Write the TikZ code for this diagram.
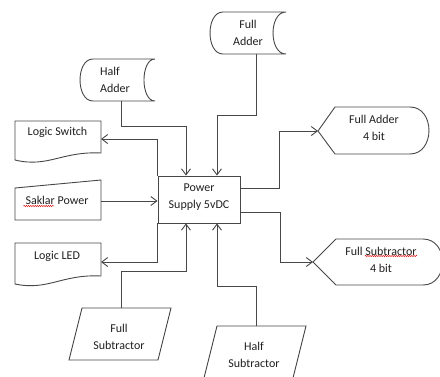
\documentclass[tikz,border=0pt]{standalone}
\usepackage{fontspec}
\setmainfont{Carlito}
\usetikzlibrary{arrows.meta,decorations.pathmorphing,calc}
\begin{document}
\begin{tikzpicture}[x=1pt,y=-1pt,
 shp/.style={draw=black!72, line width=0.9pt},
 con/.style={draw=black!72, line width=0.9pt},
 arr/.style={con, -{Straight Barb[length=6pt,width=9pt]}},
 lbl/.style={font=\fontsize{12}{17}\selectfont, text=black!88, align=center, inner sep=0pt},
 squig/.style={red!85!black, line width=0.4pt, decorate, decoration={snake, amplitude=0.7pt, segment length=2.2pt}}]
\useasboundingbox (0,0) rectangle (440,376);
\begin{scope}
\clip (0,0) rectangle (440,376);
% shapes
\draw[shp] (223,12) -- (286,12) .. controls (268.7,12) and (268.7,54) .. (286,54) -- (223,54) .. controls (205.7,54) and (205.7,12) .. (223,12) -- cycle;
\draw[shp] (93,59) -- (155,59) .. controls (140.3,59) and (140.3,101) .. (155,101) -- (93,101) .. controls (75.7,101) and (75.7,59) .. (93,59) -- cycle;
\draw[shp] (15,121) -- (101,121) -- (101,153) .. controls (62,151) and (48,168) .. (15,160) -- cycle;
\draw[shp] (15,188) -- (101,180) -- (101,220) -- (15,220) -- cycle;
\draw[shp] (15,243) -- (101,243) -- (101,276) .. controls (62,274) and (48,291) .. (15,284) -- cycle;
\draw[shp] (318,131) -- (335,107) -- (410,107) .. controls (435.3,107) and (435.3,154) .. (410,154) -- (335,154) -- cycle;
\draw[shp] (313,262) -- (336,239) -- (423,239) .. controls (449,239) and (449,285) .. (423,285) -- (336,285) -- cycle;
\draw[shp] (82,308) -- (171,308) -- (158,360) -- (69,360) -- cycle;
\draw[shp] (217,326) -- (306,326) -- (293,378) -- (204,378) -- cycle;
\end{scope}
% power supply box
\node[shp, minimum width=82pt, minimum height=47pt, inner sep=0pt] (ps) at (199,199.5) {};
% labels
\node[lbl] (fat) at (248,32.5) {Full\\Adder};
\node[lbl, align=left, anchor=west] (hat) at (100,79.5) {Half\\Adder};
\node[lbl] (lst) at (57.5,132) {Logic Switch};
\node[lbl] (spt) at (57,200) {Saklar Power};
\node[lbl] (ledt) at (57,256) {Logic LED};
\node[lbl] (pst) at (199,197.5) {Power\\Supply 5vDC};
\node[lbl] (fa4t) at (374,127.5) {Full Adder\\4 bit};
\node[lbl] (fs4t) at (381,259.5) {Full Subtractor\\4 bit};
\node[lbl] (fst) at (119,336.5) {Full\\Subtractor};
\node[lbl] (hst) at (254,354.5) {Half\\Subtractor};
% spell-check underlines
\draw[squig] (23.5,206) -- (53.5,206);
\draw[squig] (365,256) -- (417,256);
% connection points
\coordinate (faS) at (256,54);
\coordinate (haS) at (121,101);
\coordinate (lsE) at (101,139);
\coordinate (spE) at (101,201);
\coordinate (ledE) at (101,262);
\coordinate (fa4W) at (318,131);
\coordinate (fs4W) at (313,262);
\coordinate (fsN) at (121,308);
\coordinate (hsN) at (256,326);
% connectors
\draw[arr] (haS) -- ++(0,25) -| ([xshift=-13pt]ps.north);
\draw[arr] (faS) -- ++(0,61) -| ([xshift=18pt]ps.north);
\draw[arr] (ps.north west) |- (lsE);
\draw[arr] (ps.south west) |- (ledE);
\draw[arr] (spE) -- (ps.west |- spE);
\draw[arr] (fsN) -- ++(0,-37) -| ([xshift=-13pt]ps.south);
\draw[arr] (hsN) -- ++(0,-40) -| ([xshift=18pt]ps.south);
\draw[arr] ([yshift=11.5pt]ps.east) -- ++(39,0) |- (fa4W);
\draw[arr] ([yshift=-12.5pt]ps.east) -- ++(40,0) |- (fs4W);
\end{tikzpicture}
\end{document}
